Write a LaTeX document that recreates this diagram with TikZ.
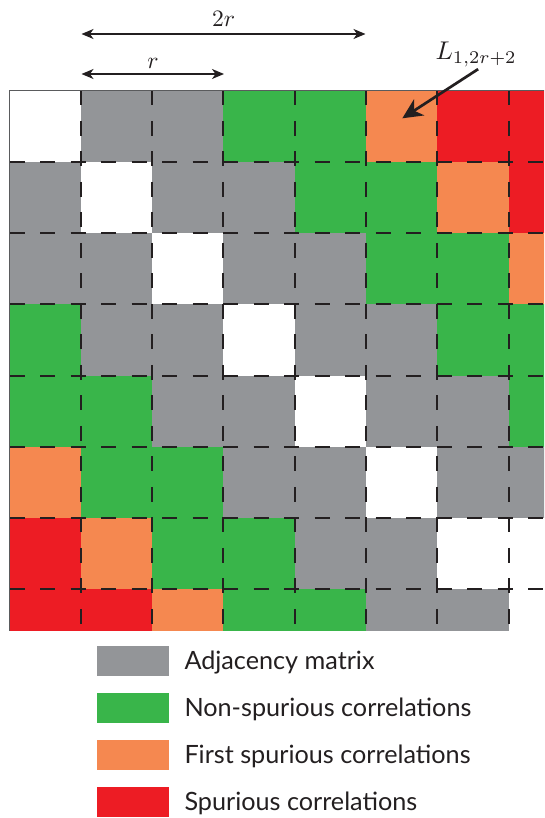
\documentclass[tikz,border=0pt]{standalone}
\usepackage{fontspec}
\newfontfamily\legendfont{Lato}
\usetikzlibrary{arrows.meta,positioning}
\definecolor{ink}{HTML}{231F20}
\definecolor{edgegray}{HTML}{5A5B5D}
\definecolor{adjg}{HTML}{939598}
\definecolor{nonsp}{HTML}{39B54A}
\definecolor{firstsp}{HTML}{F58850}
\definecolor{spur}{HTML}{ED1C24}
\tikzset{
  cellgrid/.style={line width=2pt, draw=ink, dash pattern=on 15pt off 15.5pt},
  border/.style={line width=1.5pt, draw=edgegray},
  span/.style={{Stealth[length=12pt,width=10pt,inset=3.5pt]}-{Stealth[length=12pt,width=10pt,inset=3.5pt]}, line width=1.3pt, draw=ink},
  callout/.style={-{Stealth[length=20pt,width=19pt,inset=6pt]}, line width=2.7pt, draw=ink},
  swatch/.style={minimum width=72.3pt, minimum height=30pt, inner sep=0pt},
  legtext/.style={font=\legendfont\fontsize{25.2}{29}\selectfont, text=ink, inner sep=0pt, anchor=base west},
  mathlabel/.style={scale=2.35, inner sep=0pt, anchor=base, text=ink}
}

\begin{document}
\begin{tikzpicture}[x=1pt,y=-1pt]
  \useasboundingbox (0,0) rectangle (544,818);
  % matrix cells, cut at the right and bottom
  \begin{scope}
    \clip (9.5,90.3) rectangle (544,630.7);
    \foreach \r/\cols in {
      0/{white,adjg,adjg,nonsp,nonsp,firstsp,spur,spur},
      1/{adjg,white,adjg,adjg,nonsp,nonsp,firstsp,spur},
      2/{adjg,adjg,white,adjg,adjg,nonsp,nonsp,firstsp},
      3/{nonsp,adjg,adjg,white,adjg,adjg,nonsp,nonsp},
      4/{nonsp,nonsp,adjg,adjg,white,adjg,adjg,nonsp},
      5/{firstsp,nonsp,nonsp,adjg,adjg,white,adjg,adjg},
      6/{spur,firstsp,nonsp,nonsp,adjg,adjg,white,white},
      7/{spur,spur,firstsp,nonsp,nonsp,adjg,adjg,white}}
      \foreach \c [count=\k from 0] in \cols
        \fill[\c] ({9.5+\k*71.3},{90.3+\r*71.3}) rectangle ++(71.3,71.3);
    \foreach \k in {1,...,7} {
      \draw[cellgrid] ({9.5+\k*71.3},90.3) -- ({9.5+\k*71.3},630.7);
      \draw[cellgrid] (9.5,{90.3+\k*71.3}) -- (544,{90.3+\k*71.3});
    }
  \end{scope}
  \draw[border] (9.5,630.7) -- (9.5,90.3) -- (544,90.3);

  % widths r and 2r
  \coordinate (r0) at (81.5,74);
  \coordinate (r1) at (224,74);
  \coordinate (d0) at (81.5,34);
  \coordinate (d1) at (365.5,34);
  \draw[span] (r0) -- (r1);
  \draw[span] (d0) -- (d1);
  \node[mathlabel] (rlab) at (153,68.3) {$r$};
  \node[mathlabel] (dlab) at (223.7,26.7) {$2r$};

  % first spurious entry
  \node[mathlabel, scale=1.09, anchor=base west] (llab) at (435,59.3) {$L_{1,2r+2}$};
  \coordinate (ltip) at (402.3,118.3);
  \draw[callout] ([xshift=2pt,yshift=-2pt]llab.south) -- (ltip);

  % legend
  \node[swatch, fill=adjg] (kadj) at (132.9,661) {};
  \node[swatch, fill=nonsp] (knon) at (132.9,707.7) {};
  \node[swatch, fill=firstsp] (kfirst) at (132.9,755) {};
  \node[swatch, fill=spur] (kspur) at (132.9,802) {};
  \node[legtext] (tadj) at (184.3,669.6) {Adjacency matrix};
  \node[legtext] (tnon) at (184.3,716.3) {Non-spurious correlations};
  \node[legtext] (tfirst) at (184.3,763.6) {First spurious correlations};
  \node[legtext] (tspur) at (184.3,810.6) {Spurious correlations};
\end{tikzpicture}
\end{document}
